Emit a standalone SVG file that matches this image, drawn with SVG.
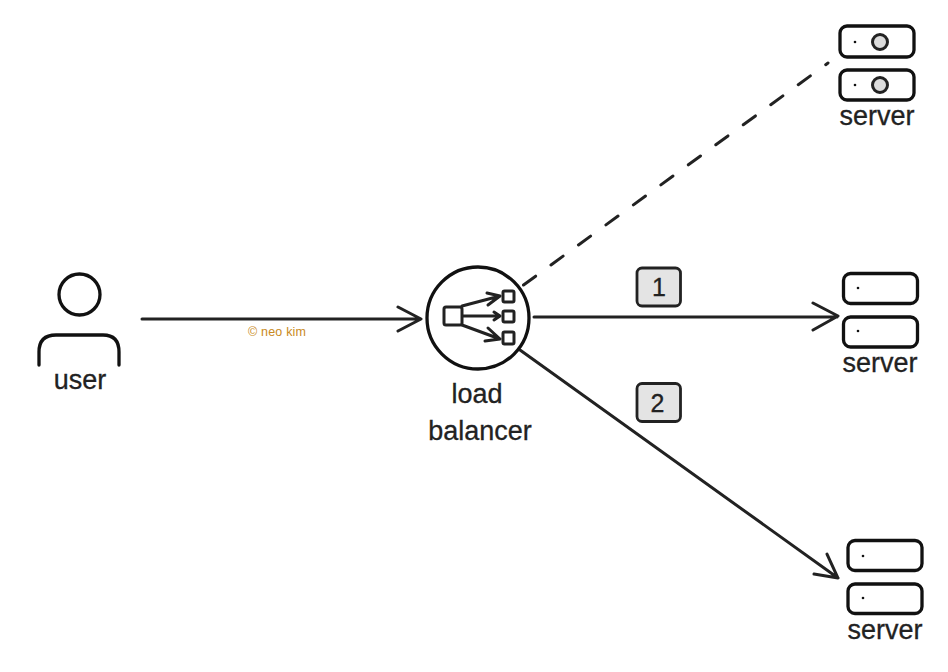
<svg xmlns="http://www.w3.org/2000/svg" width="948" height="672" viewBox="0 0 948 672">
<style>
text{font-family:"Liberation Sans",Arial,sans-serif;fill:#222;stroke:#222;stroke-width:.3;font-size:27px;text-anchor:middle}
.s{fill:none;stroke:#111;stroke-width:3.300;stroke-linecap:round;stroke-linejoin:round}
.c{fill:none;stroke:#222;stroke-width:3;stroke-linecap:round;stroke-linejoin:round}
.b{fill:#e4e4e4;stroke:#222;stroke-width:2.800}
.d{fill:#111}
.l{fill:#dcdcdc;stroke:#222;stroke-width:3}
</style>
<rect width="948" height="672" fill="#fff"/>
<g id="connectors">
<path class="c" d="M142 319L420 319M398 307L421 319L398 331"/>
<path class="c" d="M534 317L837 317M813 303L838 316L813 330"/>
<path class="c" d="M520 350L838 578M827 554L838 578L814 574"/>
<path class="c" d="M523.500 285L828 63" stroke-dasharray="15 19"/>
</g>
<g id="user">
<circle class="s" cx="79.500" cy="294.500" r="20.500"/>
<path class="s" d="M39 365V352Q39 335 56 335H103Q119 335 119 352V365"/>
<text x="80" y="389">user</text>
</g>
<g id="load-balancer">
<circle class="s" cx="478" cy="318" r="51"/>
<rect class="c" x="444" y="307" width="18" height="18" rx="2"/>
<rect class="c" x="503" y="291" width="11" height="11" rx="1.500"/>
<rect class="c" x="503" y="311" width="11" height="11" rx="1.500"/>
<rect class="c" x="503" y="332" width="11" height="12" rx="1.500"/>
<path class="c" d="M462 306L500 296M487 293L500 296L488 305M463 316L500 316M494 312L500 316L494 320M462 325L500 339M488 328L500 339L485 341"/>
<text x="477" y="403">load</text>
<text x="480" y="440">balancer</text>
</g>
<g id="server-top">
<rect class="s" x="840" y="26" width="74" height="31" rx="7"/>
<rect class="s" x="840" y="70" width="74" height="30" rx="7"/>
<circle class="d" cx="855" cy="42" r="1.300"/>
<circle class="d" cx="855" cy="85" r="1.300"/>
<circle class="l" cx="880" cy="42" r="7.500"/>
<circle class="l" cx="880" cy="85" r="7.500"/>
<text x="877" y="125">server</text>
</g>
<g id="server-middle">
<rect class="s" x="843.500" y="273.500" width="74" height="30" rx="7"/>
<rect class="s" x="843.500" y="317" width="74" height="30" rx="7"/>
<circle class="d" cx="858" cy="288" r="1.300"/>
<circle class="d" cx="858" cy="331" r="1.300"/>
<text x="880" y="372">server</text>
</g>
<g id="server-bottom">
<rect class="s" x="848" y="540.500" width="74" height="30" rx="7"/>
<rect class="s" x="848" y="584" width="74" height="29.500" rx="7"/>
<circle class="d" cx="863" cy="556" r="1.300"/>
<circle class="d" cx="863" cy="598" r="1.300"/>
<text x="885" y="639">server</text>
</g>
<g id="badge-1">
<rect class="b" x="637" y="268" width="43.500" height="38" rx="5"/>
<text x="659" y="296" style="font-size:25px">1</text>
</g>
<g id="badge-2">
<rect class="b" x="637" y="383.500" width="43.500" height="38" rx="5"/>
<text x="657.500" y="412" style="font-size:25px">2</text>
</g>
<text id="credit" x="248" y="336" textLength="58" style="font-size:12.500px;text-anchor:start;fill:#c98a22;stroke:none">© neo kim</text>
</svg>
